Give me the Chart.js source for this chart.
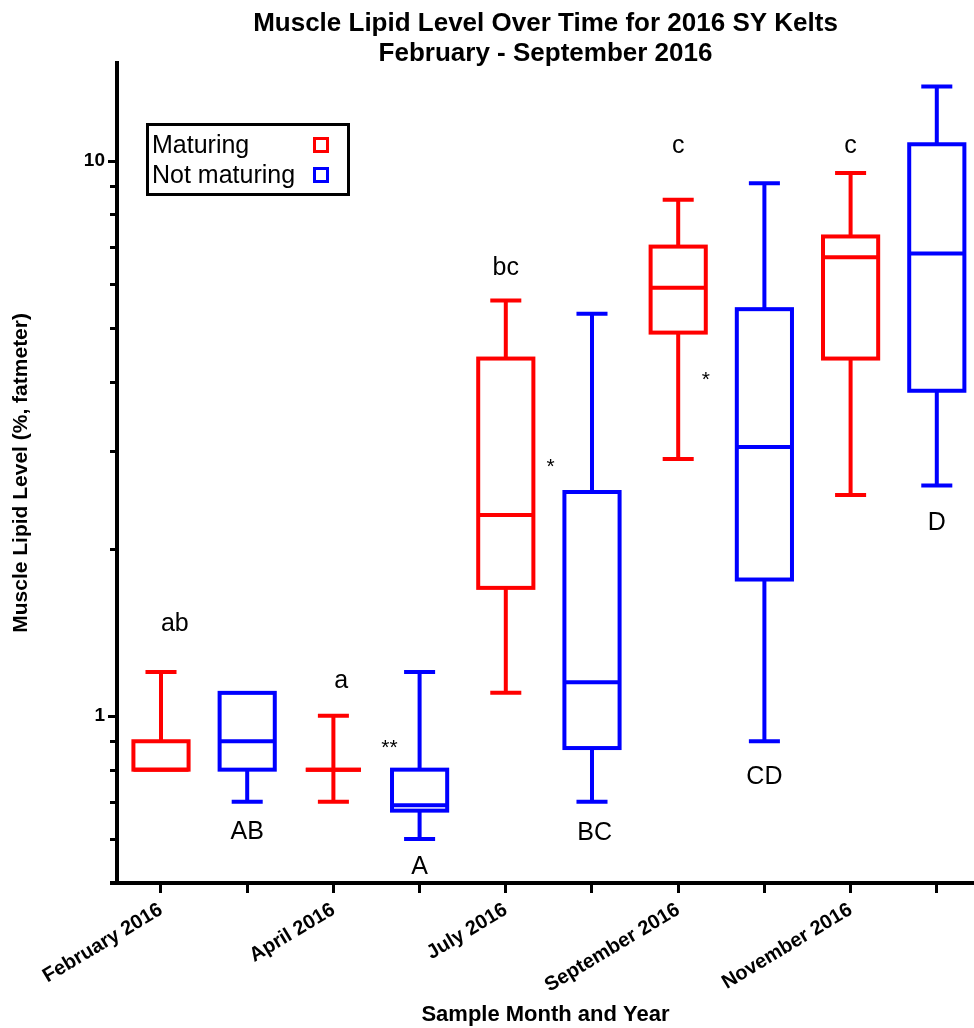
<!DOCTYPE html>
<html>
<head>
<meta charset="utf-8">
<title>Muscle Lipid Level Over Time for 2016 SY Kelts</title>
<script src="https://cdn.jsdelivr.net/npm/chart.js@4.4.1/dist/chart.umd.min.js"></script>
<style>
  html, body { margin: 0; padding: 0; background: #fff; }
</style>
</head>
<body>
<canvas id="lipidChart" width="974" height="1028"></canvas>
<script>
// one label per x tick; the blank ticks sit under the not-maturing boxes
const monthLabels = ['February 2016', '', 'April 2016', '', 'July 2016', '', 'September 2016', '', 'November 2016', ''];

// maturing fish (red)
const maturingX      = [0, 2, 4, 6, 8];
const maturingMin    = [0.8, 0.7, 1.1, 2.9, 2.5];
const maturingQ1     = [0.8, 0.8, 1.7, 4.9, 4.4];
const maturingMedian = [0.8, 0.8, 2.3, 5.9, 6.7];
const maturingQ3     = [0.9, 0.8, 4.4, 7.0, 7.3];
const maturingMax    = [1.2, 1.0, 5.6, 8.5, 9.5];

// not maturing fish (blue)
const notMaturingX      = [1, 3, 5, 7, 9];
const notMaturingMin    = [0.7, 0.6, 0.7, 0.9, 2.6];
const notMaturingQ1     = [0.8, 0.675, 0.875, 1.76, 3.85];
const notMaturingMedian = [0.9, 0.69, 1.15, 3.05, 6.8];
const notMaturingQ3     = [1.1, 0.8, 2.53, 5.4, 10.7];
const notMaturingMax    = [1.1, 1.2, 5.3, 9.1, 13.6];

// log axis ticks, only the decades get a number
const yTicks = [0.6, 0.7, 0.8, 0.9, 1, 2, 3, 4, 5, 6, 7, 8, 9, 10];
const yLabelled = [1, 10];

// significance letters / asterisks (x in tick units, y = baseline value)
const letterText = ['ab', 'AB', 'a', '**', 'A', 'bc', '*', 'BC', 'c', '*', 'CD', 'c', 'D'];
const letterX    = [0.16, 1, 2.09, 2.65, 3, 4, 4.52, 5.03, 6, 6.32, 7, 8, 9];
const letterY    = [1.42, 0.599, 1.121, 0.852, 0.52, 6.22, 2.735, 0.597, 10.31, 3.925, 0.753, 10.31, 2.159];

const RED = '#ff0000';
const BLUE = '#0000ff';
const FONT = '"Liberation Sans", Arial, sans-serif';

const toBoxes = (xs, mins, q1s, meds, q3s, maxs) =>
    xs.map((x, i) => ({ x: x, y: meds[i], min: mins[i], q1: q1s[i], q3: q3s[i], max: maxs[i] }));

// draws whiskers, boxes and medians from each point's stats
const boxPlotPlugin = {
    id: 'boxPlot',
    afterDatasetsDraw(chart) {
        const { ctx, scales: { x, y } } = chart;
        const boxHalf = 0.32, capHalf = 0.18;
        ctx.save();
        ctx.lineWidth = 4;
        ctx.lineCap = 'butt';
        ctx.lineJoin = 'miter';
        chart.data.datasets.forEach(ds => {
            ctx.strokeStyle = ds.borderColor;
            ds.data.forEach(b => {
                const cx = x.getPixelForValue(b.x);
                const bl = x.getPixelForValue(b.x - boxHalf);
                const br = x.getPixelForValue(b.x + boxHalf);
                const cl = x.getPixelForValue(b.x - capHalf);
                const cr = x.getPixelForValue(b.x + capHalf);
                const yMin = y.getPixelForValue(b.min);
                const yQ1 = y.getPixelForValue(b.q1);
                const yMed = y.getPixelForValue(b.y);
                const yQ3 = y.getPixelForValue(b.q3);
                const yMax = y.getPixelForValue(b.max);
                ctx.beginPath();
                // whiskers
                if (yMax < yQ3) {
                    ctx.moveTo(cx, yQ3); ctx.lineTo(cx, yMax);
                    ctx.moveTo(cl, yMax); ctx.lineTo(cr, yMax);
                }
                if (yMin > yQ1) {
                    ctx.moveTo(cx, yQ1); ctx.lineTo(cx, yMin);
                    ctx.moveTo(cl, yMin); ctx.lineTo(cr, yMin);
                }
                // median
                ctx.moveTo(bl, yMed); ctx.lineTo(br, yMed);
                ctx.stroke();
                if (yQ1 - yQ3 > 1) {
                    ctx.strokeRect(bl, yQ3, br - bl, yQ1 - yQ3);
                } else {
                    ctx.beginPath();
                    ctx.moveTo(bl, yQ1); ctx.lineTo(br, yQ1);
                    ctx.stroke();
                }
            });
        });

        // letters above/below the boxes
        ctx.fillStyle = '#000';
        ctx.textAlign = 'center';
        ctx.textBaseline = 'alphabetic';
        letterText.forEach((t, i) => {
            ctx.font = (t.includes('*') ? '21px ' : '25px ') + FONT;
            ctx.fillText(t, x.getPixelForValue(letterX[i]), y.getPixelForValue(letterY[i]));
        });
        ctx.restore();
    },
    afterDraw(chart) {
        const { ctx, chartArea, scales: { y } } = chart;
        ctx.save();
        ctx.strokeStyle = '#000';
        // y ticks: longer at the decades
        ctx.lineWidth = 3;
        ctx.beginPath();
        yTicks.forEach(v => {
            const py = Math.round(y.getPixelForValue(v)) + 0.5;
            const len = yLabelled.includes(v) ? 9 : 7;
            ctx.moveTo(chartArea.left - len, py);
            ctx.lineTo(chartArea.left, py);
        });
        ctx.stroke();
        // x axis runs a little past the y axis
        ctx.lineWidth = 4;
        ctx.beginPath();
        ctx.moveTo(chartArea.left - 7, chartArea.bottom);
        ctx.lineTo(chartArea.left, chartArea.bottom);
        ctx.stroke();

        // legend box
        ctx.lineWidth = 3;
        ctx.strokeRect(147.5, 124.5, 201, 70);
        ctx.fillStyle = '#000';
        ctx.font = '25px ' + FONT;
        ctx.textAlign = 'left';
        ctx.textBaseline = 'alphabetic';
        chart.data.datasets.forEach((ds, i) => {
            const base = 153 + i * 30;
            ctx.fillText(ds.label, 152, base);
            ctx.strokeStyle = ds.borderColor;
            ctx.strokeRect(314.5, base - 14.5, 13, 13);
        });
        ctx.restore();
    }
};

const ctx = document.getElementById('lipidChart').getContext('2d');
Chart.defaults.font.family = FONT;
Chart.defaults.color = '#000';

new Chart(ctx, {
    type: 'scatter',
    data: {
        datasets: [
            {
                label: 'Maturing',
                data: toBoxes(maturingX, maturingMin, maturingQ1, maturingMedian, maturingQ3, maturingMax),
                borderColor: RED,
                backgroundColor: RED,
                pointRadius: 0
            },
            {
                label: 'Not maturing',
                data: toBoxes(notMaturingX, notMaturingMin, notMaturingQ1, notMaturingMedian, notMaturingQ3, notMaturingMax),
                borderColor: BLUE,
                backgroundColor: BLUE,
                pointRadius: 0
            }
        ]
    },
    options: {
        responsive: false,
        animation: false,
        events: [],
        layout: { padding: 0 },
        plugins: {
            legend: { display: false },
            tooltip: { enabled: false },
            title: {
                display: true,
                fullSize: false,
                text: ['Muscle Lipid Level Over Time for 2016 SY Kelts', 'February - September 2016'],
                font: { size: 26, weight: 'bold', lineHeight: 1.15 },
                color: '#000',
                padding: { top: 9, bottom: -6 }
            }
        },
        scales: {
            x: {
                type: 'linear',
                min: -0.5104,
                max: 9.4316,
                bounds: 'data',
                afterBuildTicks: scale => {
                    scale.ticks = monthLabels.map((_, i) => ({ value: i }));
                },
                afterFit: scale => { scale.height = 145; },
                grid: {
                    display: true,
                    drawOnChartArea: false,
                    drawTicks: true,
                    tickLength: 10,
                    tickWidth: 3,
                    tickColor: '#000'
                },
                border: { display: true, color: '#000', width: 4 },
                ticks: {
                    autoSkip: false,
                    minRotation: 31,
                    maxRotation: 31,
                    padding: 5,
                    font: { size: 20, weight: 'bold' },
                    callback: value => monthLabels[value] ?? ''
                },
                title: {
                    display: true,
                    text: 'Sample Month and Year',
                    font: { size: 22, weight: 'bold' },
                    padding: { top: 4, bottom: 0 }
                }
            },
            y: {
                type: 'logarithmic',
                min: 0.5,
                max: 15,
                bounds: 'data',
                afterBuildTicks: scale => {
                    scale.ticks = yTicks.map(v => ({ value: v }));
                },
                afterFit: scale => { scale.width = 117; },
                grid: { display: false, drawTicks: false },
                border: { display: true, color: '#000', width: 4 },
                ticks: {
                    autoSkip: false,
                    padding: 12,
                    font: { size: 19, weight: 'bold' },
                    callback: value => yLabelled.includes(value) ? String(value) : ''
                },
                title: {
                    display: true,
                    text: 'Muscle Lipid Level (%, fatmeter)',
                    font: { size: 21, weight: 'bold' },
                    padding: { top: 9, bottom: 4 }
                }
            }
        }
    },
    plugins: [boxPlotPlugin]
});
</script>
</body>
</html>
